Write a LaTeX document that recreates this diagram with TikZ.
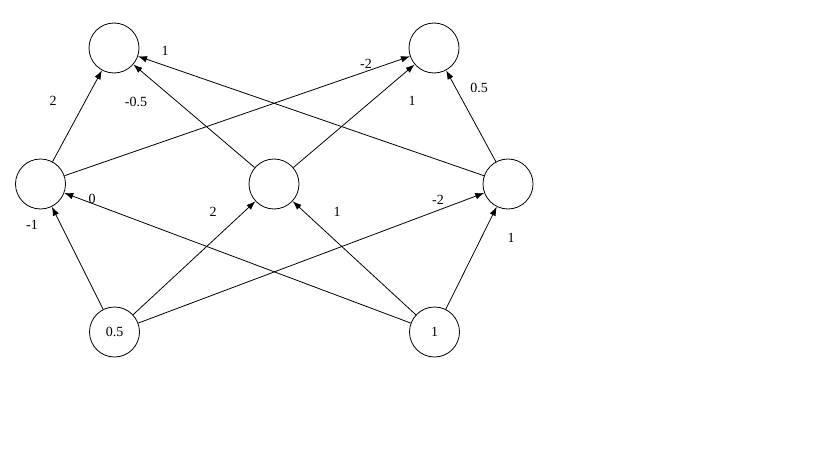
\documentclass[tikz,border=0pt]{standalone}
\usepackage{fontspec}
\setmainfont{Liberation Serif}
\usetikzlibrary{arrows.meta}
\begin{document}
\begin{tikzpicture}[x=1pt,y=-1pt,
  neuron/.style={draw, circle, minimum size=50pt, inner sep=0pt, line width=0.8pt},
  conn/.style={-{Latex[length=9pt,width=6.5pt]}, line width=0.8pt},
  wlabel/.style={font=\fontsize{14}{14}\selectfont, inner sep=0pt}]
\useasboundingbox (0,0) rectangle (819,460);
\node[neuron] (tl) at (114,48) {};
\node[neuron] (tr) at (434,48) {};
\node[neuron] (ml) at (40.5,184) {};
\node[neuron] (mc) at (274,184) {};
\node[neuron] (mr) at (508,184) {};
\node[neuron, font=\fontsize{14}{14}\selectfont] (bl) at (114.5,332) {0.5};
\node[neuron, font=\fontsize{14}{14}\selectfont] (br) at (434.5,332) {1};
% input to hidden
\draw[conn] (bl) -- (ml);
\draw[conn] (bl) -- (mc);
\draw[conn] (bl) -- (mr);
\draw[conn] (br) -- (ml);
\draw[conn] (br) -- (mc);
\draw[conn] (br) -- (mr);
% hidden to output
\draw[conn] (ml) -- (tl);
\draw[conn] (ml) -- (tr);
\draw[conn] (mc) -- (tl);
\draw[conn] (mc) -- (tr);
\draw[conn] (mr) -- (tl);
\draw[conn] (mr) -- (tr);
% labels
\node[wlabel] (l1) at (53,101) {2};
\node[wlabel] (l2) at (136,102) {-0.5};
\node[wlabel] (l3) at (165,51) {1};
\node[wlabel] (l4) at (366,64) {-2};
\node[wlabel] (l5) at (412,101) {1};
\node[wlabel] (l6) at (479,88) {0.5};
\node[wlabel] (l7) at (32,225) {-1};
\node[wlabel] (l8) at (92,199) {0};
\node[wlabel] (l9) at (213,212) {2};
\node[wlabel] (l10) at (337,212) {1};
\node[wlabel] (l11) at (438,200) {-2};
\node[wlabel] (l12) at (511,238) {1};
\end{tikzpicture}
\end{document}
